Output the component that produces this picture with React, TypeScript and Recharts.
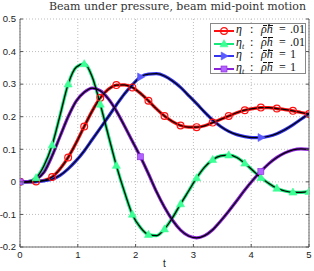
import React from 'react';
import { ComposedChart, Line, XAxis, YAxis, CartesianGrid, ReferenceLine } from 'recharts';

const tValues = [0, 0.139, 0.278, 0.417, 0.556, 0.694, 0.833, 0.972, 1.111, 1.25, 1.389, 1.528, 1.667, 1.806, 1.944, 2.083, 2.222, 2.361, 2.5, 2.639, 2.778, 2.917, 3.056, 3.194, 3.333, 3.472, 3.611, 3.75, 3.889, 4.028, 4.167, 4.306, 4.444, 4.583, 4.722, 4.861, 5];

// eta, rho*h = .01
const etaLight = [0, 0, 0.001, 0.005, 0.015, 0.04, 0.075, 0.12, 0.17, 0.218, 0.258, 0.284, 0.297, 0.298, 0.29, 0.272, 0.249, 0.224, 0.202, 0.185, 0.173, 0.168, 0.168, 0.172, 0.182, 0.192, 0.202, 0.212, 0.22, 0.225, 0.228, 0.228, 0.225, 0.222, 0.218, 0.213, 0.208];
// eta_t, rho*h = .01
const etaTLight = [0, 0.001, 0.012, 0.05, 0.113, 0.205, 0.3, 0.352, 0.362, 0.322, 0.238, 0.143, 0.05, -0.03, -0.1, -0.14, -0.162, -0.165, -0.145, -0.11, -0.068, -0.028, 0.012, 0.045, 0.068, 0.08, 0.082, 0.075, 0.057, 0.035, 0.013, -0.005, -0.02, -0.028, -0.032, -0.032, -0.03];
// eta, rho*h = 1
const etaHeavy = [0, 0, 0.001, 0.003, 0.008, 0.02, 0.04, 0.065, 0.095, 0.13, 0.165, 0.2, 0.236, 0.27, 0.298, 0.322, 0.331, 0.332, 0.325, 0.31, 0.29, 0.265, 0.24, 0.214, 0.19, 0.17, 0.155, 0.145, 0.139, 0.136, 0.136, 0.14, 0.148, 0.16, 0.175, 0.192, 0.21];
// eta_t, rho*h = 1
const etaTHeavy = [0, 0.001, 0.008, 0.03, 0.08, 0.14, 0.2, 0.248, 0.275, 0.288, 0.28, 0.255, 0.218, 0.172, 0.125, 0.077, 0.025, -0.03, -0.078, -0.118, -0.148, -0.166, -0.172, -0.165, -0.147, -0.12, -0.09, -0.058, -0.025, 0.005, 0.032, 0.056, 0.075, 0.089, 0.098, 0.101, 0.1];

const xTicks = [0, 1, 2, 3, 4, 5];
const yTicks = [-0.2, -0.1, 0, 0.1, 0.2, 0.3, 0.4, 0.5];
const yTickLabels = ['-0.2', '-0.1', '0', '0.1', '0.2', '0.3', '0.4', '0.5'];
const legendValues = ['.01', '.01', '1', '1'];
const legendSub = [false, true, false, true];
const titleText = 'Beam under pressure, beam mid-point motion';
const xLabel = 't';

const data = tValues.map((t, i) => ({
  t,
  etaL: etaLight[i],
  etaTL: etaTLight[i],
  etaH: etaHeavy[i],
  etaTH: etaTHeavy[i],
}));

type Shape = 'circle' | 'triUp' | 'triRight' | 'square';

const series: { key: string; color: string; fill: string; shape: Shape; step: number }[] = [
  { key: 'etaL', color: '#ff1010', fill: 'none', shape: 'circle', step: 2 },
  { key: 'etaTL', color: '#14e878', fill: '#3cff96', shape: 'triUp', step: 2 },
  { key: 'etaH', color: '#3434f0', fill: '#5a5aff', shape: 'triRight', step: 15 },
  { key: 'etaTH', color: '#8a22d8', fill: '#b264ff', shape: 'square', step: 15 },
];

function Marker({ shape, cx, cy, color, fill }: { shape: Shape; cx: number; cy: number; color: string; fill: string }) {
  if (shape === 'circle') return <circle cx={cx} cy={cy} r={3.4} fill="none" stroke={color} strokeWidth={1.2} />;
  if (shape === 'triUp')
    return <polygon points={`${cx},${cy - 4.3} ${cx - 4},${cy + 2.8} ${cx + 4},${cy + 2.8}`} fill={fill} stroke={fill} strokeWidth={0.6} />;
  if (shape === 'triRight')
    return <polygon points={`${cx + 4.3},${cy} ${cx - 2.8},${cy - 4} ${cx - 2.8},${cy + 4}`} fill={fill} stroke={fill} strokeWidth={0.6} />;
  return <rect x={cx - 3} y={cy - 3} width={6} height={6} fill={fill} stroke={color} strokeWidth={0.6} />;
}

const makeDot = (s: (typeof series)[number]) => (props: any) => {
  const { cx, cy, index } = props;
  if (index % s.step !== 0 || cx == null || cy == null) return <g key={`${s.key}-n${index}`} />;
  return (
    <g key={`${s.key}-d${index}`}>
      <Marker shape={s.shape} cx={cx} cy={cy} color={s.color} fill={s.fill} />
    </g>
  );
};

const YTick = (props: any) => {
  const { x, y, payload } = props;
  const idx = yTicks.indexOf(payload.value);
  return (
    <g>
      <line x1={20} x2={23} y1={y} y2={y} stroke="#555" />
      <line x1={306} x2={309} y1={y} y2={y} stroke="#555" />
      <text x={x} y={y} dy="0.35em" textAnchor="end" fontSize={9.5} fill="#222" fontFamily="'Liberation Sans', Arial, sans-serif">
        {idx >= 0 ? yTickLabels[idx] : payload.value}
      </text>
    </g>
  );
};

const XTick = (props: any) => {
  const { x, y, payload } = props;
  return (
    <g>
      <line x1={x} x2={x} y1={247} y2={244} stroke="#555" />
      <text x={x} y={y} dy="0.71em" textAnchor="middle" fontSize={9.5} fill="#222" fontFamily="'Liberation Sans', Arial, sans-serif">
        {payload.value}
      </text>
    </g>
  );
};

function Barred({ ch }: { ch: string }) {
  return (
    <span style={{ position: 'relative', display: 'inline-block' }}>
      {ch}
      <span style={{ position: 'absolute', left: 1.5, right: 0, top: 1.5, height: 0, borderTop: '0.8px solid #111' }} />
    </span>
  );
}

function LegendBox() {
  const rowTop = [24, 36.5, 49, 61.5];
  return (
    <div
      style={{
        position: 'absolute',
        left: 210,
        top: 23,
        width: 96,
        height: 51,
        border: '1px solid #888',
        background: '#fff',
        boxSizing: 'border-box',
        fontFamily: "'Liberation Serif', 'DejaVu Serif', serif",
        fontSize: 12,
        color: '#111',
      }}
    >
      {series.map((s, i) => (
        <div key={s.key} style={{ position: 'absolute', left: 0, top: rowTop[i] - 24, width: 96, height: 12.5 }}>
          <svg width={22} height={12} style={{ position: 'absolute', left: 2, top: 1 }}>
            <line x1={1} x2={21} y1={6} y2={6} stroke={s.color} strokeWidth={2} />
            <Marker shape={s.shape} cx={11} cy={6} color={s.color} fill={s.fill === 'none' ? 'none' : s.fill} />
          </svg>
          <span style={{ position: 'absolute', left: 25, top: -1, fontStyle: 'italic', lineHeight: '13px' }}>
            η{legendSub[i] ? <span style={{ fontSize: 8, position: 'relative', top: 3 }}>t</span> : null}
          </span>
          <span style={{ position: 'absolute', left: 39, top: -1, lineHeight: '13px' }}>:</span>
          <span style={{ position: 'absolute', left: 50, top: -1, fontStyle: 'italic', lineHeight: '13px', whiteSpace: 'nowrap' }}>
            <Barred ch="ρ" />
            <Barred ch="h" />
          </span>
          <span style={{ position: 'absolute', left: 68, top: -1, lineHeight: '13px' }}>=</span>
          <span style={{ position: 'absolute', left: 79, top: -1, lineHeight: '13px' }}>{legendValues[i]}</span>
        </div>
      ))}
    </div>
  );
}

export default function App() {
  return (
    <div style={{ position: 'absolute', left: 0, top: 0, width: 314, height: 271, background: '#fff' }}>
      <ComposedChart width={314} height={271} data={data} margin={{ top: 19, right: 5, bottom: 0, left: 0 }}>
        <CartesianGrid strokeDasharray="1 2" stroke="#bdbdbd" horizontalValues={yTicks} verticalValues={xTicks} />
        <XAxis
          dataKey="t"
          type="number"
          domain={[0, 5]}
          ticks={xTicks}
          height={24}
          tickSize={0}
          tickMargin={4}
          tick={<XTick />}
          axisLine={{ stroke: '#666' }}
          tickLine={false}
          allowDataOverflow
          label={{ value: xLabel, position: 'insideBottom', offset: 4, fontSize: 10, fill: '#222', fontFamily: "'Liberation Sans', Arial, sans-serif" }}
        />
        <YAxis
          type="number"
          domain={[-0.2, 0.5]}
          ticks={yTicks}
          width={20}
          tickSize={0}
          tickMargin={4}
          tick={<YTick />}
          axisLine={{ stroke: '#666' }}
          tickLine={false}
          allowDataOverflow
        />
        <ReferenceLine x={5} stroke="#666" />
        {series.map((s) => (
          <Line
            key={`c-${s.key}`}
            type="monotone"
            dataKey={s.key}
            stroke={s.color}
            strokeWidth={3.2}
            dot={makeDot(s)}
            activeDot={false}
            isAnimationActive={false}
          />
        ))}
        {series.map((s) => (
          <Line
            key={`k-${s.key}`}
            type="monotone"
            dataKey={s.key}
            stroke="#000"
            strokeWidth={1.2}
            dot={false}
            activeDot={false}
            isAnimationActive={false}
          />
        ))}
      </ComposedChart>
      <div
        style={{
          position: 'absolute',
          right: 8,
          top: 0,
          fontFamily: "'DejaVu Serif', serif",
          fontSize: 11,
          color: '#333',
          whiteSpace: 'nowrap',
        }}
      >
        {titleText}
      </div>
      <LegendBox />
    </div>
  );
}
